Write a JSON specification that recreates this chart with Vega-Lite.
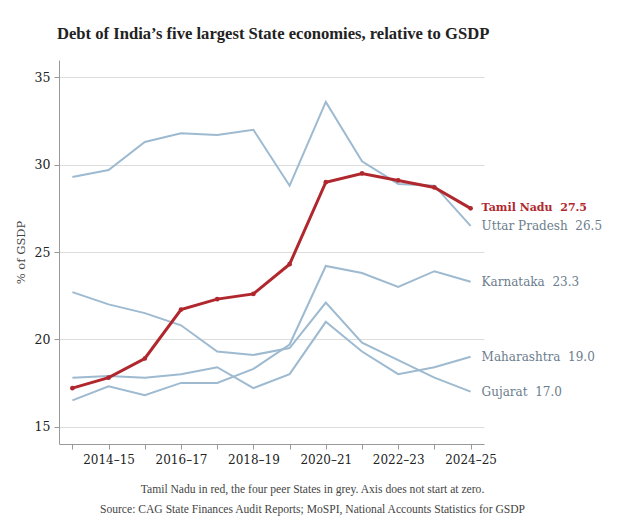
{
  "$schema": "https://vega.github.io/schema/vega-lite/v6.json",
  "autosize": {"type": "none"},
  "padding": {"left": 59, "top": 60, "right": 140, "bottom": 82},
  "width": 425,
  "height": 384,
  "background": "white",
  "config": {
    "view": {"stroke": null},
    "font": "DejaVu Serif"
  },
  "title": {
    "text": "Debt of India’s five largest State economies, relative to GSDP",
    "anchor": "start",
    "frame": "group",
    "font": "Liberation Serif",
    "fontSize": 16.6,
    "fontWeight": "bold",
    "color": "#222222",
    "offset": 17,
    "dx": -2
  },
  "data": {
    "values": [
      {"state": "Tamil Nadu", "year": "2013–14", "value": 17.2},
      {"state": "Tamil Nadu", "year": "2014–15", "value": 17.8},
      {"state": "Tamil Nadu", "year": "2015–16", "value": 18.9},
      {"state": "Tamil Nadu", "year": "2016–17", "value": 21.7},
      {"state": "Tamil Nadu", "year": "2017–18", "value": 22.3},
      {"state": "Tamil Nadu", "year": "2018–19", "value": 22.6},
      {"state": "Tamil Nadu", "year": "2019–20", "value": 24.3},
      {"state": "Tamil Nadu", "year": "2020–21", "value": 29.0},
      {"state": "Tamil Nadu", "year": "2021–22", "value": 29.5},
      {"state": "Tamil Nadu", "year": "2022–23", "value": 29.1},
      {"state": "Tamil Nadu", "year": "2023–24", "value": 28.7},
      {"state": "Tamil Nadu", "year": "2024–25", "value": 27.5},
      {"state": "Uttar Pradesh", "year": "2013–14", "value": 29.3},
      {"state": "Uttar Pradesh", "year": "2014–15", "value": 29.7},
      {"state": "Uttar Pradesh", "year": "2015–16", "value": 31.3},
      {"state": "Uttar Pradesh", "year": "2016–17", "value": 31.8},
      {"state": "Uttar Pradesh", "year": "2017–18", "value": 31.7},
      {"state": "Uttar Pradesh", "year": "2018–19", "value": 32.0},
      {"state": "Uttar Pradesh", "year": "2019–20", "value": 28.8},
      {"state": "Uttar Pradesh", "year": "2020–21", "value": 33.6},
      {"state": "Uttar Pradesh", "year": "2021–22", "value": 30.2},
      {"state": "Uttar Pradesh", "year": "2022–23", "value": 28.9},
      {"state": "Uttar Pradesh", "year": "2023–24", "value": 28.8},
      {"state": "Uttar Pradesh", "year": "2024–25", "value": 26.5},
      {"state": "Karnataka", "year": "2013–14", "value": 16.5},
      {"state": "Karnataka", "year": "2014–15", "value": 17.3},
      {"state": "Karnataka", "year": "2015–16", "value": 16.8},
      {"state": "Karnataka", "year": "2016–17", "value": 17.5},
      {"state": "Karnataka", "year": "2017–18", "value": 17.5},
      {"state": "Karnataka", "year": "2018–19", "value": 18.3},
      {"state": "Karnataka", "year": "2019–20", "value": 19.7},
      {"state": "Karnataka", "year": "2020–21", "value": 24.2},
      {"state": "Karnataka", "year": "2021–22", "value": 23.8},
      {"state": "Karnataka", "year": "2022–23", "value": 23.0},
      {"state": "Karnataka", "year": "2023–24", "value": 23.9},
      {"state": "Karnataka", "year": "2024–25", "value": 23.3},
      {"state": "Maharashtra", "year": "2013–14", "value": 17.8},
      {"state": "Maharashtra", "year": "2014–15", "value": 17.9},
      {"state": "Maharashtra", "year": "2015–16", "value": 17.8},
      {"state": "Maharashtra", "year": "2016–17", "value": 18.0},
      {"state": "Maharashtra", "year": "2017–18", "value": 18.4},
      {"state": "Maharashtra", "year": "2018–19", "value": 17.2},
      {"state": "Maharashtra", "year": "2019–20", "value": 18.0},
      {"state": "Maharashtra", "year": "2020–21", "value": 21.0},
      {"state": "Maharashtra", "year": "2021–22", "value": 19.3},
      {"state": "Maharashtra", "year": "2022–23", "value": 18.0},
      {"state": "Maharashtra", "year": "2023–24", "value": 18.4},
      {"state": "Maharashtra", "year": "2024–25", "value": 19.0},
      {"state": "Gujarat", "year": "2013–14", "value": 22.7},
      {"state": "Gujarat", "year": "2014–15", "value": 22.0},
      {"state": "Gujarat", "year": "2015–16", "value": 21.5},
      {"state": "Gujarat", "year": "2016–17", "value": 20.8},
      {"state": "Gujarat", "year": "2017–18", "value": 19.3},
      {"state": "Gujarat", "year": "2018–19", "value": 19.1},
      {"state": "Gujarat", "year": "2019–20", "value": 19.5},
      {"state": "Gujarat", "year": "2020–21", "value": 22.1},
      {"state": "Gujarat", "year": "2021–22", "value": 19.8},
      {"state": "Gujarat", "year": "2022–23", "value": 18.8},
      {"state": "Gujarat", "year": "2023–24", "value": 17.8},
      {"state": "Gujarat", "year": "2024–25", "value": 17.0}
    ]
  },
  "encoding": {
    "x": {
      "field": "year",
      "type": "ordinal",
      "sort": null,
      "scale": {"type": "point", "padding": 0.37},
      "axis": {
        "labelExpr": "indexof(['2014–15','2016–17','2018–19','2020–21','2022–23','2024–25'], datum.value) >= 0 ? datum.value : ''",
        "labelAngle": 0,
        "labelOverlap": false,
        "labelFont": "DejaVu Serif",
        "labelFontSize": 12,
        "labelColor": "#222222",
        "labelPadding": 5,
        "domainColor": "#999999",
        "tickColor": "#999999",
        "tickSize": 5,
        "grid": false,
        "title": [
          "Tamil Nadu in red, the four peer States in grey. Axis does not start at zero.",
          "Source: CAG State Finances Audit Reports; MoSPI, National Accounts Statistics for GSDP"
        ],
        "titleFont": "Liberation Serif",
        "titleFontSize": 11.6,
        "titleFontWeight": "normal",
        "titleColor": "#444444",
        "titleLineHeight": 20,
        "titleAlign": "center",
        "titleAnchor": "start",
        "titleX": 253,
        "titleY": 39,
        "titleBaseline": "top"
      }
    },
    "y": {
      "field": "value",
      "type": "quantitative",
      "scale": {"domain": [14, 36], "nice": false, "zero": false},
      "axis": {
        "values": [15, 20, 25, 30, 35],
        "labelFont": "DejaVu Serif",
        "labelFontSize": 12.5,
        "labelColor": "#222222",
        "labelPadding": 4,
        "domainColor": "#999999",
        "tickColor": "#999999",
        "tickSize": 5,
        "gridColor": "#dddddd",
        "gridWidth": 1,
        "title": "% of GSDP",
        "titleFont": "DejaVu Serif",
        "titleFontSize": 11.5,
        "titleFontWeight": "normal",
        "titleColor": "#444444",
        "titlePadding": 8
      }
    }
  },
  "layer": [
    {
      "transform": [{"filter": "datum.state !== 'Tamil Nadu'"}],
      "mark": {"type": "line", "color": "#9dbad0", "strokeWidth": 2},
      "encoding": {"detail": {"field": "state"}}
    },
    {
      "transform": [{"filter": "datum.state === 'Tamil Nadu'"}],
      "mark": {"type": "line", "color": "#b0282e", "strokeWidth": 3, "point": {"filled": true, "size": 22, "color": "#b0282e"}},
      "encoding": {}
    },
    {
      "transform": [
        {"filter": "datum.year === '2024–25' && datum.state !== 'Tamil Nadu'"},
        {"calculate": "datum.state + '\u00a0\u00a0' + format(datum.value, '.1f')", "as": "label"}
      ],
      "mark": {"type": "text", "align": "left", "baseline": "middle", "dx": 11, "font": "DejaVu Serif", "fontSize": 12, "color": "#6b7d8d"},
      "encoding": {"text": {"field": "label"}}
    },
    {
      "transform": [
        {"filter": "datum.year === '2024–25' && datum.state === 'Tamil Nadu'"},
        {"calculate": "datum.state + '\u00a0\u00a0' + format(datum.value, '.1f')", "as": "label"}
      ],
      "mark": {"type": "text", "align": "left", "baseline": "middle", "dx": 11, "font": "DejaVu Serif", "fontSize": 11, "fontWeight": "bold", "color": "#b0282e"},
      "encoding": {"text": {"field": "label"}}
    }
  ]
}
